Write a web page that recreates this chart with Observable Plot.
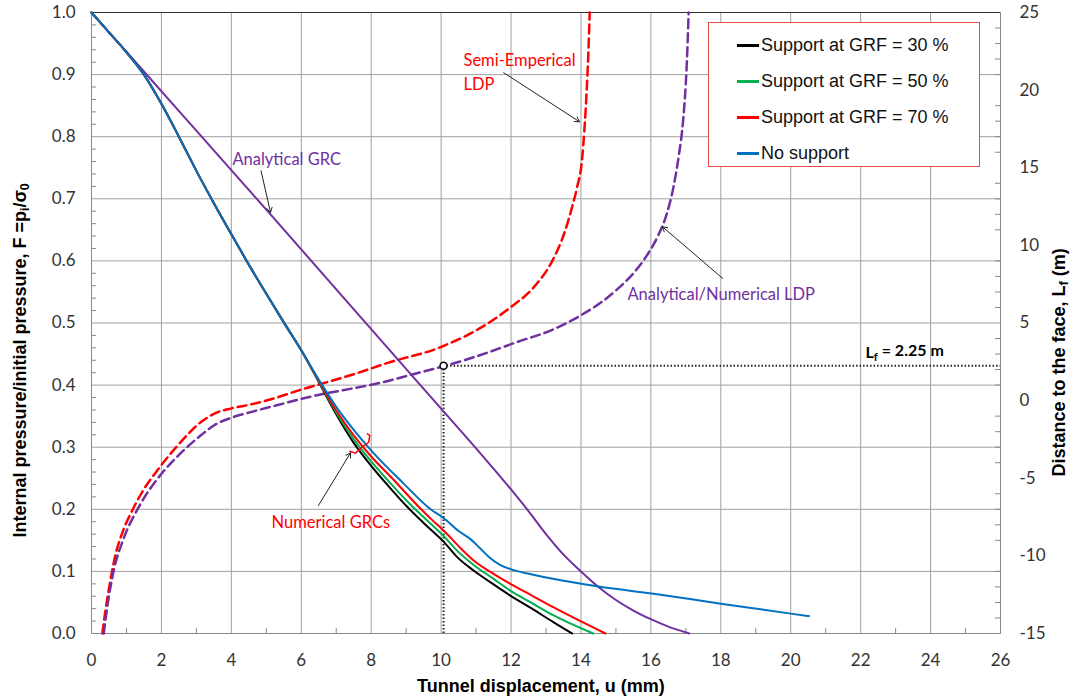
<!DOCTYPE html>
<html><head><meta charset="utf-8">
<script src="https://cdn.jsdelivr.net/npm/d3@7"></script>
<script src="https://cdn.jsdelivr.net/npm/@observablehq/plot@0.6"></script>
<style>
body{margin:0;background:#fff;}
#wrap{position:relative;width:1071px;height:697px;font-family:Arial,"Liberation Sans",sans-serif;overflow:hidden;}
.ttl{position:absolute;font-weight:bold;font-size:18px;color:#000;white-space:nowrap;line-height:1;}
.ttl sub{font-size:0.7em;vertical-align:-0.25em;}
#legend{position:absolute;left:708px;top:22px;width:272px;height:145px;border:1px solid #e84a4a;background:#fff;box-sizing:border-box;}
.li{position:absolute;left:28px;font-size:18px;color:#111;white-space:nowrap;line-height:1;}
.li span{display:inline-block;width:22px;height:3px;vertical-align:middle;margin-right:2px;position:relative;top:-1px;}
</style></head>
<body><div id="wrap"></div>
<script>
// ---- axes ----
const uTicks = [0,2,4,6,8,10,12,14,16,18,20,22,24,26];
const uMinor = [1,3,5,7,9,11,13,15,17,19,21,23,25];
const fTicks = [0,0.1,0.2,0.3,0.4,0.5,0.6,0.7,0.8,0.9,1.0];
const lTicks = [-15,-10,-5,0,5,10,15,20,25];
const lRange = [-15,25];

// ---- numerical GRCs (u mm, F) ----
const grcShared = [[0,1],[0.5,0.968],[1,0.936],[1.5,0.9],[2,0.853],[2.5,0.8],[3,0.745],[3.5,0.693],[4,0.643],[4.5,0.594],[5,0.547],[5.5,0.501],[6,0.456]];
const grf30Tail = [[6.5,0.405],[7.0,0.353],[7.5,0.307],[8.0,0.27],[8.5,0.237],[9.03,0.204],[9.5,0.178],[10.07,0.148],[10.46,0.123],[10.94,0.101],[11.5,0.079],[11.98,0.061],[12.6,0.04],[13.22,0.018],[13.75,0]];
const grf50Tail = [[6.5,0.406],[7.0,0.356],[7.5,0.313],[8.0,0.277],[8.5,0.245],[9.17,0.205],[9.6,0.182],[10.07,0.157],[10.5,0.131],[10.94,0.11],[11.5,0.088],[11.98,0.069],[12.6,0.049],[13.22,0.029],[14.35,0]];
const grf70Tail = [[6.5,0.407],[7.0,0.359],[7.5,0.319],[8.0,0.285],[8.6,0.25],[9.31,0.207],[9.7,0.185],[10.07,0.166],[10.6,0.135],[10.94,0.117],[11.5,0.096],[11.98,0.08],[12.6,0.061],[13.22,0.042],[14.7,0]];
const noSupportTail = [[6.5,0.409],[7.0,0.365],[7.5,0.328],[8.03,0.293],[8.9,0.243],[9.7,0.2],[10.07,0.186],[10.5,0.165],[10.84,0.152],[11.1,0.138],[11.35,0.124],[11.7,0.11],[12.08,0.102],[12.6,0.095],[13.2,0.088],[14.46,0.076],[16.08,0.064],[18,0.048],[20,0.032],[20.52,0.028]];

// ---- analytical GRC (u, F) ----
const analyticalGRC = [[0,1],[1.5,0.905],[3.12,0.802],[5.12,0.675],[8,0.49],[10,0.362],[11,0.298],[12,0.232],[12.5,0.197],[13,0.16],[13.5,0.127],[14,0.1],[14.5,0.075],[15,0.054],[15.5,0.037],[16,0.023],[16.5,0.011],[17.1,0]];

// ---- LDPs (u mm, L m) ----
const semiEmpiricalLDP = [[0.31,-15],[0.4,-13.5],[0.5,-12.1],[0.69,-9.9],[0.9,-8.4],[1.16,-7.1],[1.5,-5.7],[1.88,-4.5],[2.5,-2.8],[3.12,-1.4],[3.5,-0.85],[4,-0.5],[4.55,-0.25],[5.3,0.2],[5.98,0.7],[6.6,1.1],[7.5,1.7],[8.5,2.45],[9.98,3.44],[11.32,4.95],[11.98,6.0],[12.65,7.3],[13.18,9.0],[13.51,10.7],[13.75,12.5],[13.89,13.75],[14.03,15.5],[14.1,17.5],[14.16,19.8],[14.21,22.3],[14.25,25]];
const analyticalLDP = [[0.35,-15],[0.45,-13.3],[0.64,-10.9],[0.9,-9.0],[1.35,-6.86],[1.97,-4.8],[2.5,-3.5],[3.12,-2.25],[3.5,-1.6],[4,-1.1],[4.55,-0.74],[5.3,-0.3],[5.98,0.1],[6.45,0.35],[7.5,0.8],[8.36,1.2],[9.2,1.7],[10.13,2.25],[10.94,2.8],[12.17,3.77],[13.22,4.6],[14.0,5.5],[14.56,6.3],[15.0,7.1],[15.5,8.2],[15.9,9.4],[16.2,10.6],[16.45,12.0],[16.65,13.8],[16.8,15.8],[16.92,18.0],[17.0,20.5],[17.05,23],[17.08,25]];

// ---- face distance marker ----
const lfValue = 2.25;
const uAtLf = 10.07;

// ---- annotations ----
const notes = [
  {text:"Semi-Emperical\nLDP", u:10.64, F:0.907, color:"#ff0000"},
  {text:"Analytical GRC", u:4.03, F:0.766, color:"#7030a0"},
  {text:"Analytical/Numerical LDP", u:15.33, F:0.549, color:"#7030a0"},
  {text:"Numerical GRCs", u:5.15, F:0.182, color:"#ff0000"}
];
const pointers = [
  {u1:11.79, F1:0.903, u2:13.96, F2:0.824},
  {u1:4.85, F1:0.745, u2:5.12, F2:0.678},
  {u1:18.05, F1:0.572, u2:16.33, F2:0.655},
  {u1:6.49, F1:0.206, u2:7.41, F2:0.291}
];
const bracket = [[7.39,0.2936],[7.55,0.2904],[7.74,0.300],[7.93,0.308],[7.96,0.319],[7.89,0.3215]];

const series = [
  {name:"Support at GRF = 30 %", color:"#000000", tail:grf30Tail},
  {name:"Support at GRF = 50 %", color:"#00b050", tail:grf50Tail},
  {name:"Support at GRF = 70 %", color:"#ff0000", tail:grf70Tail},
  {name:"No support", color:"#0070c0", tail:noSupportTail}
];

// map L (right axis) onto the F scale
const toF = L => (L - lRange[0]) / (lRange[1] - lRange[0]);
const fromF = f => Math.round(f * (lRange[1] - lRange[0]) + lRange[0]);

const fMinor = d3.range(0, 1.0001, 0.02).filter(v => Math.abs(v*10 - Math.round(v*10)) > 1e-6);
const lMinor = d3.range(lRange[0], lRange[1] + 1, 1).filter(v => v % 5 !== 0).map(toF);

const rowsOf = (arr, key) => arr.map(([u, v]) => ({u, F: key === "L" ? toF(v) : v}));
const grcRows = series.map(s => ({...s, rows: rowsOf(grcShared.concat(s.tail), "F")}));

const tickFont = "Lato, 'Open Sans', sans-serif";
const tickLen = {x: 0.14, y: 0.008};

const plot = Plot.plot({
  width: 1071, height: 697,
  marginLeft: 91, marginRight: 71, marginTop: 12, marginBottom: 64,
  x: {domain: [0, 26]},
  y: {domain: [0, 1]},
  style: {fontFamily: tickFont, fontSize: "17px", color: "#333", background: "#fff"},
  marks: [
    Plot.gridX(uTicks, {stroke: "#a0a0a0", strokeOpacity: 1, strokeWidth: 1}),
    Plot.gridY(fTicks, {stroke: "#a0a0a0", strokeOpacity: 1, strokeWidth: 1}),
    Plot.ruleX(uMinor, {x: d => d, y1: 0, y2: tickLen.y, stroke: "#888"}),
    Plot.ruleY(fMinor, {y: d => d, x1: 0, x2: tickLen.x, stroke: "#888"}),
    Plot.ruleY(lMinor, {y: d => d, x1: 26 - tickLen.x, x2: 26, stroke: "#888"}),
    Plot.frame({stroke: "#8a8a8a"}),
    Plot.ruleY([1], {stroke: "#333"}),
    Plot.axisX(uTicks, {tickSize: 0, tickPadding: 20, label: null, fontSize: 17}),
    Plot.axisY(fTicks, {anchor: "left", tickSize: 0, tickPadding: 16, label: null, tickFormat: d3.format(".1f"), fontSize: 17}),
    Plot.axisY(lTicks.map(toF), {anchor: "right", tickSize: 0, tickPadding: 19, label: null, tickFormat: fromF, fontSize: 17}),
    // Lf guide lines
    Plot.ruleX([uAtLf], {x: d => d, y1: 0, y2: toF(lfValue), stroke: "#222", strokeWidth: 2, strokeDasharray: "1.5,2"}),
    Plot.ruleY([toF(lfValue)], {y: d => d, x1: uAtLf, x2: 26, stroke: "#222", strokeWidth: 2, strokeDasharray: "1.5,2"}),
    // LDPs
    Plot.line(rowsOf(semiEmpiricalLDP, "L"), {x: "u", y: "F", stroke: "#ff0000", strokeWidth: 2.5, strokeDasharray: "9,5", curve: "monotone-x"}),
    Plot.line(rowsOf(analyticalLDP, "L"), {x: "u", y: "F", stroke: "#7030a0", strokeWidth: 2.5, strokeDasharray: "9,5", curve: "monotone-x"}),
    // analytical GRC
    Plot.line(rowsOf(analyticalGRC, "F"), {x: "u", y: "F", stroke: "#7030a0", strokeWidth: 2, curve: "monotone-x"}),
    // numerical GRCs
    ...grcRows.map(s => Plot.line(s.rows, {x: "u", y: "F", stroke: s.color, strokeWidth: 2, curve: "monotone-x"})),
    Plot.dot([{u: uAtLf, F: toF(lfValue)}], {x: "u", y: "F", r: 3.5, stroke: "#000", fill: "#fff", strokeWidth: 1.5}),
    // annotations
    Plot.line(bracket.map(([u, F]) => ({u, F})), {x: "u", y: "F", stroke: "#ff0000", strokeWidth: 1.5}),
    Plot.arrow(pointers, {x1: "u1", y1: "F1", x2: "u2", y2: "F2", stroke: "#222", strokeWidth: 1, headLength: 8}),
    Plot.text(notes, {x: "u", y: "F", text: "text", fill: d => d.color, textAnchor: "start", lineAnchor: "middle", lineHeight: 1.45, fontSize: 16.5, fontFamily: tickFont}),
    Plot.text([{u: 22.14, F: toF(lfValue) + 0.021, label: "Lf = " + lfValue + " m"}], {x: "u", y: "F", text: "label", textAnchor: "start", lineAnchor: "middle", fontSize: 16, fontWeight: "bold", fill: "#000", fontFamily: tickFont})
  ]
});

// subscript in the Lf label
d3.select(plot).selectAll("text").filter(function(){ return this.textContent === "Lf = " + lfValue + " m"; }).each(function(){
  const t = d3.select(this);
  const host = t.select("tspan").empty() ? t : t.select("tspan");
  host.text(null);
  host.append("tspan").text("L");
  host.append("tspan").attr("font-size", "11px").attr("dy", "0.3em").text("f");
  host.append("tspan").attr("dy", "-0.3em").text(" = " + lfValue + " m");
});

const wrap = document.getElementById("wrap");
wrap.appendChild(plot);

// axis titles
function addTitle(html, cx, cy, rotate) {
  const el = document.createElement("div");
  el.className = "ttl";
  el.innerHTML = html;
  wrap.appendChild(el);
  el.style.left = (cx - el.offsetWidth / 2) + "px";
  el.style.top = (cy - el.offsetHeight / 2) + "px";
  if (rotate) el.style.transform = "rotate(-90deg)";
}
addTitle("Internal pressure/initial pressure, F =p<sub>i</sub>/σ<sub>0</sub>", 21, 360, true);
addTitle("Distance to the face, L<sub>f</sub> (m)", 1060, 362, true);
addTitle("Tunnel displacement, u (mm)", 541, 686, false);

// legend
const legend = document.createElement("div");
legend.id = "legend";
series.forEach((s, i) => {
  const row = document.createElement("div");
  row.className = "li";
  row.style.top = (13 + i * 36) + "px";
  row.innerHTML = `<span style="background:${s.color}"></span>${s.name}`;
  legend.appendChild(row);
});
wrap.appendChild(legend);
</script>
</body></html>
